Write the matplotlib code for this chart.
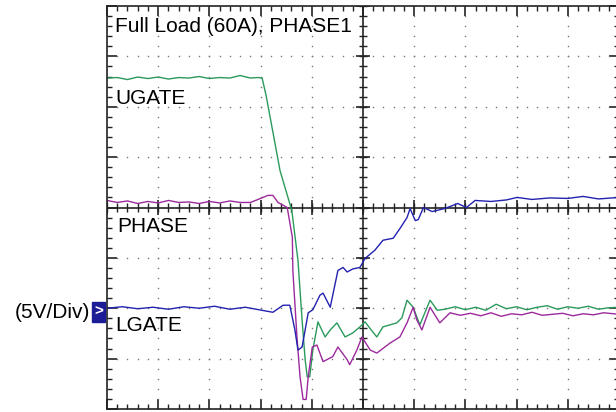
import numpy as np
import matplotlib.pyplot as plt
from matplotlib.patches import Rectangle

plt.rcParams['font.family'] = ['Liberation Sans', 'DejaVu Sans']

# scope traces, in screen divisions (x: 0..10, y: -4..4)
ugate_x = [0.0, 0.2, 0.4, 0.6, 0.8, 1.0, 1.2, 1.4, 1.6, 1.8, 2.0, 2.2, 2.4, 2.6, 2.8, 2.95, 3.03,
           3.11, 3.38, 3.61, 3.73, 3.81, 3.87, 3.91, 3.96, 4.02, 4.12, 4.26, 4.36, 4.49, 4.65,
           4.80, 4.94, 5.04, 5.16, 5.27, 5.39, 5.66, 5.76, 5.86, 5.98, 6.11, 6.31, 6.45, 6.60,
           6.8, 7.0, 7.2, 7.4, 7.6, 7.8, 8.0, 8.2, 8.4, 8.6, 8.8, 9.0, 9.2, 9.4, 9.6, 9.8, 10.0]
ugate_y = [2.57, 2.58, 2.54, 2.59, 2.56, 2.59, 2.55, 2.58, 2.57, 2.60, 2.56, 2.58, 2.57, 2.62, 2.57, 2.58, 2.57,
           2.21, 0.73, -0.06, -1.05, -2.23, -3.02, -3.36, -3.36, -2.83, -2.27, -2.57, -2.43, -2.29, -2.57,
           -2.49, -2.37, -2.27, -2.43, -2.57, -2.37, -2.29, -2.19, -1.84, -1.98, -2.33, -1.84, -2.04, -2.02,
           -1.97, -2.03, -1.98, -2.04, -1.92, -2.01, -1.97, -2.03, -1.98, -1.95, -2.02, -1.97, -2.00, -1.96, -2.02, -1.99, -1.98]

phase_x = [0.0, 0.2, 0.4, 0.6, 0.8, 1.0, 1.2, 1.4, 1.6, 1.8, 2.0, 2.2, 2.4, 2.6, 2.8, 3.0, 3.14, 3.24, 3.34,
           3.52, 3.62, 3.63, 3.71, 3.77, 3.83, 3.89, 3.93, 4.01, 4.10, 4.22, 4.41, 4.51, 4.69, 4.74, 4.88,
           4.98, 5.14, 5.27, 5.53, 5.72, 5.86, 5.98, 6.05, 6.15, 6.31, 6.50, 6.70, 6.9, 7.1, 7.3, 7.5,
           7.7, 7.9, 8.1, 8.3, 8.5, 8.7, 8.9, 9.1, 9.3, 9.5, 9.7, 10.0]
phase_y = [0.14, 0.10, 0.13, 0.08, 0.12, 0.09, 0.14, 0.10, 0.11, 0.08, 0.12, 0.09, 0.13, 0.10, 0.10, 0.18, 0.24, 0.24, 0.10,
           0.0, -0.59, -1.25, -2.57, -3.36, -3.81, -3.81, -3.36, -2.77, -2.73, -3.06, -2.96, -2.77, -3.02, -3.12, -2.83,
           -2.57, -2.83, -2.89, -2.69, -2.57, -2.29, -1.98, -2.23, -2.43, -1.98, -2.29, -2.09, -2.14, -2.10, -2.15, -2.09,
           -2.16, -2.11, -2.13, -2.08, -2.14, -2.12, -2.10, -2.15, -2.11, -2.13, -2.09, -2.12]

lgate_x = [0.0, 0.3, 0.6, 0.9, 1.2, 1.5, 1.8, 2.1, 2.4, 2.7, 3.24, 3.44, 3.57, 3.67, 3.73, 3.81, 3.93,
           4.02, 4.16, 4.22, 4.36, 4.51, 4.61, 4.69, 4.80, 4.94, 5.04, 5.23, 5.39, 5.59, 5.72, 5.86,
           5.92, 6.02, 6.08, 6.18, 6.35, 6.60, 6.85, 7.02, 7.19, 7.5, 7.8, 8.01, 8.3, 8.65, 9.0, 9.3, 9.6, 10.0]
lgate_y = [-2.0, -1.97, -2.01, -1.98, -2.02, -1.97, -2.0, -1.96, -2.02, -1.98, -2.08, -1.94, -1.94, -2.43, -2.83, -2.77, -2.09,
           -2.03, -1.74, -1.70, -1.98, -1.25, -1.19, -1.28, -1.22, -1.19, -1.01, -0.85, -0.65, -0.61, -0.42, -0.20,
           -0.02, -0.26, -0.24, 0.0, -0.08, -0.02, 0.08, 0.0, 0.14, 0.12, 0.15, 0.20, 0.16, 0.19, 0.18, 0.22, 0.17, 0.20]

fig = plt.figure(figsize=(6.16, 4.12), dpi=100)
ax = fig.add_axes([107 / 616, 3 / 412, 512 / 616, 403 / 412])
ax.set_xlim(0, 10)
ax.set_ylim(-4, 4)

# dotted graticule
minor = np.arange(0, 10.01, 0.2)
minor_y = np.arange(-4, 4.01, 0.2)
for gx in range(1, 10):
    if gx != 5:
        ax.plot(np.full_like(minor_y, gx), minor_y, ls='none', marker='s', ms=1.0, color='#777', mew=0)
for gy in range(-3, 4):
    if gy != 0:
        ax.plot(minor, np.full_like(minor, gy), ls='none', marker='s', ms=1.0, color='#777', mew=0)

# center crosshair with ticks
ax.axhline(0, color='#222', lw=1.2)
ax.axvline(5, color='#222', lw=1.2)
ax.vlines(minor, -0.09, 0.09, color='#222', lw=1.0)
ax.hlines(minor_y, 4.92, 5.08, color='#222', lw=1.0)
ax.vlines(np.arange(0, 11), -0.15, 0.15, color='#222', lw=1.2)
ax.hlines(np.arange(-4, 5), 4.86, 5.14, color='#222', lw=1.2)

ax.set_xticks(np.arange(0, 11))
ax.set_yticks(np.arange(-4, 5))
ax.set_xticks(minor, minor=True)
ax.set_yticks(minor_y, minor=True)
ax.tick_params(which='both', direction='in', top=True, right=True,
               labelbottom=False, labelleft=False, color='#222')
ax.tick_params(which='major', length=7, width=1.2)
ax.tick_params(which='minor', length=3.5, width=1.0)
for s in ax.spines.values():
    s.set_color('#222')
    s.set_linewidth(1.2)

ax.plot(ugate_x, ugate_y, color='#2a9a5c', lw=1.0)
ax.plot(phase_x, phase_y, color='#9c2a9c', lw=1.0)
ax.plot(lgate_x, lgate_y, color='#2222b0', lw=1.0)

ax.text(0.16, 3.6, 'Full Load (60A), PHASE1', fontsize=15, va='center')
ax.text(0.16, 2.17, 'UGATE', fontsize=15, va='center')
ax.text(0.2, -0.38, 'PHASE', fontsize=15, va='center')
ax.text(0.16, -2.35, 'LGATE', fontsize=15, va='center')

fig.text(90 / 616, 1 - 312 / 412, '(5V/Div)', fontsize=15, ha='right', va='center')
fig.patches.append(Rectangle((92 / 616, 1 - 322 / 412), 13 / 616, 20 / 412,
                             transform=fig.transFigure, color='#1c1c96'))
fig.text(98.5 / 616, 1 - 312 / 412, '>', fontsize=11, color='white', ha='center', va='center',
         fontweight='bold')

fig.savefig('out.png', dpi=100)
